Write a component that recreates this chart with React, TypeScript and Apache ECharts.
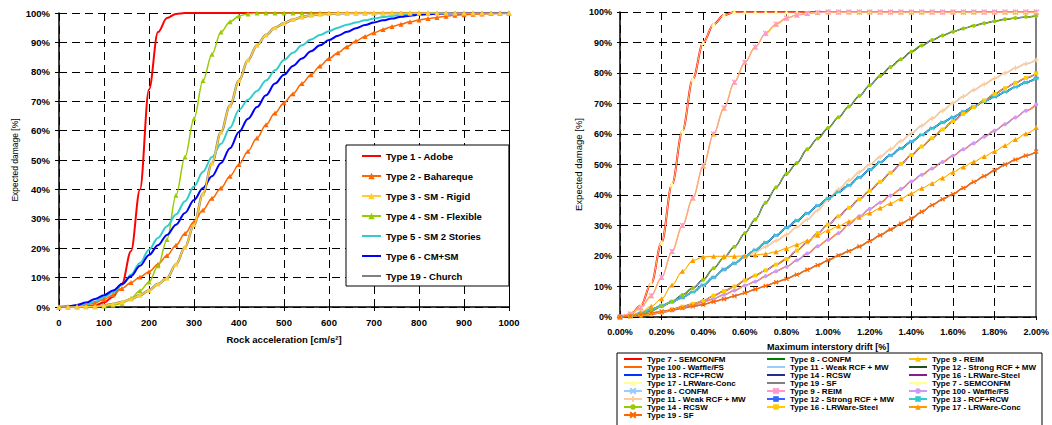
import React, { useEffect, useRef } from 'react';
import * as echarts from 'echarts';

// ---------- Left chart data (rock acceleration, cm/s²) ----------
const accel = [0, 20, 40, 60, 80, 100, 120, 140, 160, 180, 200, 220, 240, 260, 280, 300, 320, 340, 360, 380, 400, 420, 440, 460, 480, 500, 520, 540, 560, 580, 600, 620, 640, 660, 680, 700, 720, 740, 760, 780, 800, 820, 840, 860, 880, 900, 920, 940, 960, 980, 1000];

const type1Adobe = [0, 0, 0, 0.2, 0.6, 1.5, 3.5, 8, 19, 40, 74, 93.5, 98.3, 99.7, 100, 100, 100, 100, 100, 100, 100, 100, 100, 100, 100, 100, 100, 100, 100, 100, 100, 100, 100, 100, 100, 100, 100, 100, 100, 100, 100, 100, 100, 100, 100, 100, 100, 100, 100, 100, 100];
const type2Bahareque = [0, 0.1, 0.3, 0.7, 1.4, 2.6, 4.2, 6.3, 8.3, 10.2, 12, 14.5, 17.5, 21, 25, 29, 33, 37, 40.5, 44.5, 48.5, 53, 57.5, 62, 66, 69.5, 72.5, 76, 79, 82, 84.5, 86.5, 88.5, 90.5, 92, 93.3, 94.4, 95.4, 96.2, 97, 97.6, 98.1, 98.5, 98.9, 99.2, 99.4, 99.6, 99.7, 99.8, 99.9, 100];
const type3SMRigid = [0, 0, 0, 0.1, 0.2, 0.5, 1, 1.7, 2.7, 4, 5.7, 7.8, 9.8, 14.5, 20.3, 28, 38.5, 49, 59.5, 68.5, 77, 84, 89, 92.5, 95, 96.5, 97.8, 98.6, 99.2, 99.6, 99.8, 99.9, 100, 100, 100, 100, 100, 100, 100, 100, 100, 100, 100, 100, 100, 100, 100, 100, 100, 100, 100];
const type4SMFlexible = [0, 0, 0, 0.05, 0.1, 0.3, 0.6, 1.3, 3, 5.5, 8.5, 14, 23, 38, 51, 64, 77, 86, 93.5, 97, 99, 99.7, 100, 100, 100, 100, 100, 100, 100, 100, 100, 100, 100, 100, 100, 100, 100, 100, 100, 100, 100, 100, 100, 100, 100, 100, 100, 100, 100, 100, 100];
const type5SM2Stories = [0, 0.1, 0.3, 0.8, 1.8, 3.3, 5, 7.5, 11, 15, 19.5, 23.5, 27.5, 31.5, 36, 41, 46, 51, 55.5, 61, 67, 70.5, 73.5, 77, 80.5, 84, 86.5, 89, 91, 92.5, 93.8, 95, 96, 96.8, 97.5, 98.1, 98.6, 99, 99.3, 99.5, 99.7, 99.8, 99.9, 100, 100, 100, 100, 100, 100, 100, 100];
const type6CMSM = [0, 0.2, 0.7, 1.5, 2.7, 4, 5.6, 7.8, 10.5, 14, 17.7, 21, 24.5, 28, 32, 36.4, 40.5, 44.5, 49, 54, 59.5, 64, 68, 72, 76, 79, 82, 84.5, 87, 89, 90.8, 92.3, 93.6, 94.8, 95.9, 96.8, 97.5, 98.1, 98.7, 99.1, 99.4, 99.6, 99.75, 99.85, 99.9, 100, 100, 100, 100, 100, 100];
const type19Church = [0, 0, 0, 0.1, 0.2, 0.5, 1, 1.7, 2.7, 4, 5.7, 7.8, 9.8, 14.5, 20.3, 28, 38.5, 49, 59.5, 68.5, 77, 84, 89, 92.5, 95, 96.5, 97.8, 98.6, 99.2, 99.6, 99.8, 99.9, 100, 100, 100, 100, 100, 100, 100, 100, 100, 100, 100, 100, 100, 100, 100, 100, 100, 100, 100];

const accelTicks = [0, 100, 200, 300, 400, 500, 600, 700, 800, 900, 1000];

// ---------- Right chart data (maximum interstory drift, %) ----------
const drift = [0, 0.05, 0.1, 0.15, 0.2, 0.25, 0.3, 0.35, 0.4, 0.45, 0.5, 0.55, 0.6, 0.65, 0.7, 0.75, 0.8, 0.85, 0.9, 0.95, 1.0, 1.05, 1.1, 1.15, 1.2, 1.25, 1.3, 1.35, 1.4, 1.45, 1.5, 1.55, 1.6, 1.65, 1.7, 1.75, 1.8, 1.85, 1.9, 1.95, 2.0];

const semconfm7 = [0, 0.8, 3.8, 11, 24.5, 43.5, 61, 78, 90, 96, 99, 100, 100, 100, 100, 100, 100, 100, 100, 100, 100, 100, 100, 100, 100, 100, 100, 100, 100, 100, 100, 100, 100, 100, 100, 100, 100, 100, 100, 100, 100];
const reim9 = [0, 1, 3, 7, 13, 21.5, 30, 39, 49.5, 60, 68.5, 77, 83.5, 88.5, 93, 96, 98, 99, 99.5, 99.8, 100, 100, 100, 100, 100, 100, 100, 100, 100, 100, 100, 100, 100, 100, 100, 100, 100, 100, 100, 100, 100];
const rcsw14 = [0, 0.3, 1, 2, 3.5, 5, 7.2, 9.5, 12.2, 16, 19.5, 23, 27.5, 32, 37.5, 42.5, 47, 50.5, 55, 58.5, 62, 65.5, 69, 72.5, 76, 79, 82, 84.5, 87, 89, 90.8, 92.3, 93.5, 94.6, 95.5, 96.3, 97, 97.6, 98, 98.4, 98.7];
const confm8 = [0, 0.4, 1.3, 2.5, 3.7, 5, 6.4, 8.2, 10.5, 13, 15.6, 17.6, 19.8, 22, 24.4, 26.8, 29.3, 31.6, 34, 36.5, 38.8, 41, 43.2, 45.8, 48.3, 50.8, 53, 55.3, 57.5, 59.7, 61.9, 63.8, 65.5, 67.3, 69, 70.7, 72.2, 73.8, 75.4, 76.9, 78.3];
const strongRcf12 = [0, 0.4, 1.3, 2.5, 3.7, 5, 6.4, 8.2, 10.5, 13, 15.6, 17.6, 19.8, 22, 24.4, 26.8, 29.3, 31.6, 34, 36.5, 38.8, 41, 43.2, 45.8, 48.3, 50.8, 53, 55.3, 57.5, 59.7, 61.9, 63.8, 65.5, 67.3, 69, 70.7, 72.2, 73.8, 75.4, 76.9, 78.3];
const rcfRcw13 = [0, 0.4, 1.3, 2.5, 3.7, 5, 6.4, 8.2, 10.5, 13, 15.6, 17.6, 19.8, 22, 24.4, 26.8, 29.3, 31.6, 34, 36.5, 38.8, 41, 43.2, 45.8, 48.3, 50.8, 53, 55.3, 57.5, 59.7, 61.9, 63.8, 65.5, 67.3, 69, 70.7, 72.2, 73.8, 75.4, 76.9, 78.3];
const weakRcf11 = [0, 0.4, 1.3, 2.5, 3.7, 5, 6.4, 8.2, 10.5, 13, 15.6, 17.6, 19.8, 21.3, 23, 25, 27, 29.5, 32, 35, 38.5, 41.8, 44.8, 47.5, 50, 52.5, 55, 57.7, 60.2, 62.7, 65.1, 67.6, 70.2, 72.3, 74.4, 76.3, 78.2, 80, 81.6, 83, 84.3];
const lrwSteel16 = [0, 0.2, 0.5, 0.9, 1.5, 2.5, 3.4, 4.3, 5.3, 7, 8.5, 10, 12, 13.6, 15.3, 17.2, 19, 21.8, 24.5, 27.5, 30.3, 33, 35.8, 38.6, 41.4, 44.3, 47.3, 50.2, 53.1, 55.9, 58.6, 61.5, 64.2, 66.6, 68.8, 71, 73.1, 75, 76.8, 78.4, 79.9];
const waffle100 = [0, 0.2, 0.5, 0.9, 1.4, 2.2, 3, 3.9, 4.9, 6, 7.3, 8.7, 10.3, 11.6, 13.4, 15, 16.5, 18.6, 20.8, 23.2, 25.3, 27.5, 30.4, 33, 35.4, 37.5, 39.8, 42, 44.4, 46.6, 48.7, 50.8, 52.9, 55, 57, 59.1, 61.1, 63.2, 65.4, 67.6, 69.7];
const lrwConc17 = [0, 0.5, 1.5, 3.5, 6, 10.5, 15, 18.5, 19.7, 19.9, 19.9, 19.9, 20, 20.3, 20.7, 21.4, 22.5, 23.7, 25, 26.8, 28.4, 29.8, 31.3, 32.7, 34.1, 35.7, 37.2, 38.8, 40.5, 42.2, 43.8, 45.6, 47.5, 49.2, 50.9, 52.6, 54.3, 56.2, 58.2, 60.1, 62.1];
const sf19 = [0, 0.2, 0.7, 1.3, 1.8, 2.3, 2.9, 3.5, 4.1, 5, 5.9, 6.9, 7.9, 9.1, 10.2, 11.4, 12.5, 13.9, 15.5, 17, 18.6, 20.2, 21.6, 23.1, 24.9, 26.8, 28.7, 30.6, 32.3, 34.5, 36.7, 38.6, 40.3, 42.3, 44.3, 46.2, 48.1, 50, 51.6, 52.9, 54.2];

const damageTicks = [0, 10, 20, 30, 40, 50, 60, 70, 80, 90, 100];

const FONT = '"Liberation Sans", Arial, Helvetica, sans-serif';

const SYM_X = 'path://M0,0L10,10M10,0L0,10';
const SYM_STAR = 'path://M0,0L10,10M10,0L0,10M5,0L5,10';
const SYM_PLUS = 'path://M5,0L5,10M0,5L10,5';
const SYM_DASH = 'path://M0,4L10,4L10,6L0,6Z';

type SOpt = {
  symbol?: string;
  symbolSize?: number | number[];
  width?: number;
  stroke?: boolean;
  z?: number;
};

function mk(name: string, xs: number[], ys: number[], color: string, grid: number, o: SOpt = {}) {
  const hasSym = !!o.symbol && o.symbol !== 'none';
  return {
    type: 'line',
    name,
    xAxisIndex: grid === 0 ? 0 : 1,
    yAxisIndex: grid === 0 ? 0 : 2,
    data: xs.map((x, i) => [x, ys[i]]),
    smooth: 0.35,
    smoothMonotone: 'x',
    symbol: hasSym ? o.symbol : 'none',
    showSymbol: hasSym,
    symbolSize: o.symbolSize ?? 5,
    lineStyle: { color, width: o.width ?? 1.5 },
    itemStyle: {
      color,
      borderColor: color,
      borderWidth: o.stroke ? 1.2 : 0,
      opacity: hasSym ? 1 : 0,
    },
    z: o.z ?? 2,
    silent: true,
    emphasis: { disabled: true },
  };
}

function legendItem(s: any) {
  return s.symbol === 'none' ? { name: s.name, itemStyle: { opacity: 0 } } : { name: s.name };
}

export default function App() {
  const ref = useRef<HTMLDivElement>(null);

  useEffect(() => {
    document.body.style.margin = '0';
    document.body.style.overflow = 'hidden';
    const chart = echarts.init(ref.current!, null, { renderer: 'svg' });

    const leftSeries = [
      mk('Type 1 - Adobe', accel, type1Adobe, '#FF0000', 0, { width: 2 }),
      mk('Type 2 - Bahareque', accel, type2Bahareque, '#FF6600', 0, { symbol: 'triangle', symbolSize: 5 }),
      mk('Type 3 - SM - Rigid', accel, type3SMRigid, '#FFCC33', 0, { symbol: 'triangle', symbolSize: 5, z: 3 }),
      mk('Type 4 - SM - Flexible', accel, type4SMFlexible, '#99CC00', 0, { symbol: 'triangle', symbolSize: 5 }),
      mk('Type 5 - SM 2 Stories', accel, type5SM2Stories, '#33CCCC', 0, { width: 2 }),
      mk('Type 6 - CM+SM', accel, type6CMSM, '#0000FF', 0, { width: 2 }),
      mk('Type 19 - Church', accel, type19Church, '#808080', 0, { width: 2.5, z: 1 }),
    ];

    const S = ' ';
    const rightSeries = [
      mk('Type 7 - SEMCONFM', drift, semconfm7, '#FF0000', 1, { z: 1, width: 2 }),
      mk('Type 8 - CONFM', drift, confm8, '#008000', 1, { z: 1 }),
      mk('Type 9 - REIM', drift, reim9, '#FFC000', 1, { symbol: 'triangle', symbolSize: 5, z: 1 }),
      mk('Type 100 - Waffle/FS', drift, waffle100, '#FF6600', 1, { z: 1 }),
      mk('Type 11 - Weak RCF + MW', drift, weakRcf11, '#99CCFF', 1, { z: 1 }),
      mk('Type 12 - Strong RCF + MW', drift, strongRcf12, '#1F4E1F', 1, { z: 1 }),
      mk('Type 13 - RCF+RCW', drift, rcfRcw13, '#0033FF', 1, { z: 1 }),
      mk('Type 14 - RCSW', drift, rcsw14, '#1F2F8F', 1, { z: 1 }),
      mk('Type 16 - LRWare-Steel', drift, lrwSteel16, '#8B1A8B', 1, { z: 1 }),
      mk('Type 17 - LRWare-Conc', drift, lrwConc17, '#FFFF99', 1, { symbol: 'triangle', symbolSize: 5, z: 1 }),
      mk('Type 19 - SF', drift, sf19, '#808080', 1, { z: 1 }),
      mk('Type 7 - SEMCONFM' + S, drift, semconfm7, '#FFFF99', 1, { symbol: 'triangle', symbolSize: 5, width: 0.8 }),
      mk('Type 8 - CONFM' + S, drift, confm8, '#99CCFF', 1, { symbol: SYM_X, symbolSize: 4, stroke: true, width: 1 }),
      mk('Type 9 - REIM' + S, drift, reim9, '#FF99CC', 1, { symbol: SYM_STAR, symbolSize: 5, stroke: true, width: 1 }),
      mk('Type 100 - Waffle/FS' + S, drift, waffle100, '#CC99FF', 1, { symbol: 'circle', symbolSize: 4, width: 1 }),
      mk('Type 11 - Weak RCF + MW' + S, drift, weakRcf11, '#FFCC99', 1, { symbol: SYM_PLUS, symbolSize: 5, stroke: true, width: 1.5 }),
      mk('Type 12 - Strong RCF + MW' + S, drift, strongRcf12, '#3366FF', 1, { symbol: SYM_DASH, symbolSize: [5, 2], width: 1.2 }),
      mk('Type 13 - RCF+RCW' + S, drift, rcfRcw13, '#33CCCC', 1, { symbol: SYM_DASH, symbolSize: [5, 2], width: 1.2 }),
      mk('Type 14 - RCSW' + S, drift, rcsw14, '#99CC00', 1, { symbol: 'circle', symbolSize: 4, width: 1 }),
      mk('Type 16 - LRWare-Steel' + S, drift, lrwSteel16, '#FFCC00', 1, { symbol: 'rect', symbolSize: 4, width: 1 }),
      mk('Type 17 - LRWare-Conc' + S, drift, lrwConc17, '#FF9900', 1, { symbol: 'triangle', symbolSize: 5, width: 1 }),
      mk('Type 19 - SF' + S, drift, sf19, '#FF6600', 1, { symbol: SYM_X, symbolSize: 4, stroke: true, width: 1.2 }),
    ];

    const rightItems = rightSeries.map(legendItem);
    const col = (k: number) => rightItems.filter((_, i) => i % 3 === k);

    const axisLabelL = { fontSize: 9.5, fontWeight: 'bold', color: '#000', fontFamily: FONT };
    const axisLabelR = { fontSize: 9, fontWeight: 'bold', color: '#000', fontFamily: FONT };
    const splitL = { show: true, lineStyle: { color: '#000', width: 1, type: [8, 5] } };
    const blackLine = { show: true, lineStyle: { color: '#000', width: 1.5 } };

    const rightLegend = (k: number, left: number) => ({
      show: true,
      type: 'plain',
      orient: 'vertical',
      left,
      top: 355,
      height: 200,
      padding: 0,
      itemGap: 0,
      itemWidth: 18,
      itemHeight: 7,
      selectedMode: false,
      textStyle: { fontSize: 8, fontWeight: 'bold', color: '#000', lineHeight: 8, fontFamily: FONT },
      data: col(k),
    });

    chart.setOption({
      animation: false,
      textStyle: { fontFamily: FONT },
      grid: [
        { left: 59, top: 13, width: 450, height: 294 },
        { left: 620, top: 12, width: 421, height: 305 },
      ],
      xAxis: [
        {
          gridIndex: 0,
          type: 'value',
          min: accelTicks[0],
          max: accelTicks[accelTicks.length - 1],
          interval: 100,
          name: 'Rock acceleration [cm/s²]',
          nameLocation: 'middle',
          nameGap: 27,
          nameTextStyle: { fontSize: 9.5, fontWeight: 'bold', color: '#000', fontFamily: FONT },
          axisLine: blackLine,
          axisTick: { show: true, length: 4, lineStyle: { color: '#000' } },
          axisLabel: { ...axisLabelL, margin: 10, formatter: (v: number) => String(v) },
          splitLine: splitL,
        },
        {
          gridIndex: 1,
          type: 'value',
          min: 0,
          max: 2,
          interval: 0.2,
          name: 'Maximum interstory drift [%]',
          nameLocation: 'middle',
          nameGap: 25,
          nameTextStyle: { fontSize: 9, fontWeight: 'bold', color: '#000', fontFamily: FONT },
          axisLine: blackLine,
          axisTick: { show: true, length: 3, lineStyle: { color: '#000' } },
          axisLabel: { ...axisLabelR, margin: 10, formatter: (v: number) => v.toFixed(2) + '%' },
          splitLine: splitL,
        },
      ],
      yAxis: [
        {
          gridIndex: 0,
          type: 'value',
          min: damageTicks[0],
          max: damageTicks[damageTicks.length - 1],
          interval: 10,
          name: 'Expected damage [%]',
          nameLocation: 'middle',
          nameGap: 40,
          nameTextStyle: { fontSize: 8.5, color: '#000', fontFamily: FONT },
          axisLine: blackLine,
          axisTick: { show: true, length: 4, lineStyle: { color: '#000' } },
          axisLabel: { ...axisLabelL, margin: 9, formatter: '{value}%' },
          splitLine: splitL,
        },
        {
          gridIndex: 0,
          type: 'value',
          position: 'right',
          min: 0,
          max: 100,
          interval: 10,
          axisLine: { show: true, lineStyle: { color: '#000', width: 1 } },
          axisTick: { show: false },
          axisLabel: { show: false },
          splitLine: { show: false },
        },
        {
          gridIndex: 1,
          type: 'value',
          min: 0,
          max: 100,
          interval: 10,
          name: 'Expected damage [%]',
          nameLocation: 'middle',
          nameGap: 37,
          nameTextStyle: { fontSize: 9.5, color: '#000', fontFamily: FONT },
          axisLine: blackLine,
          axisTick: { show: true, length: 3, lineStyle: { color: '#000' } },
          axisLabel: { ...axisLabelR, margin: 8, formatter: '{value}%' },
          splitLine: splitL,
        },
        {
          gridIndex: 1,
          type: 'value',
          position: 'right',
          min: 0,
          max: 100,
          interval: 10,
          axisLine: { show: true, lineStyle: { color: '#808080', width: 2 } },
          axisTick: { show: false },
          axisLabel: { show: false },
          splitLine: { show: false },
        },
      ],
      legend: [
        {
          show: true,
          orient: 'vertical',
          left: 346,
          top: 145,
          padding: [5, 27, 4, 15],
          itemGap: 8,
          itemWidth: 19,
          itemHeight: 8,
          backgroundColor: '#fff',
          borderColor: '#000',
          borderWidth: 1,
          borderRadius: 0,
          selectedMode: false,
          textStyle: { fontSize: 9.5, fontWeight: 'bold', color: '#000', lineHeight: 12, fontFamily: FONT },
          data: leftSeries.map(legendItem),
        },
        rightLegend(0, 623),
        rightLegend(1, 766),
        rightLegend(2, 908),
      ],
      graphic: [
        {
          type: 'rect',
          z: 0,
          shape: { x: 617, y: 353, width: 425, height: 90 },
          style: { fill: '#fff', stroke: '#000', lineWidth: 1 },
        },
      ],
      series: [...leftSeries, ...rightSeries],
    });

    return () => chart.dispose();
  }, []);

  return <div ref={ref} style={{ position: 'absolute', left: 0, top: 0, width: 1052, height: 425 }} />;
}
